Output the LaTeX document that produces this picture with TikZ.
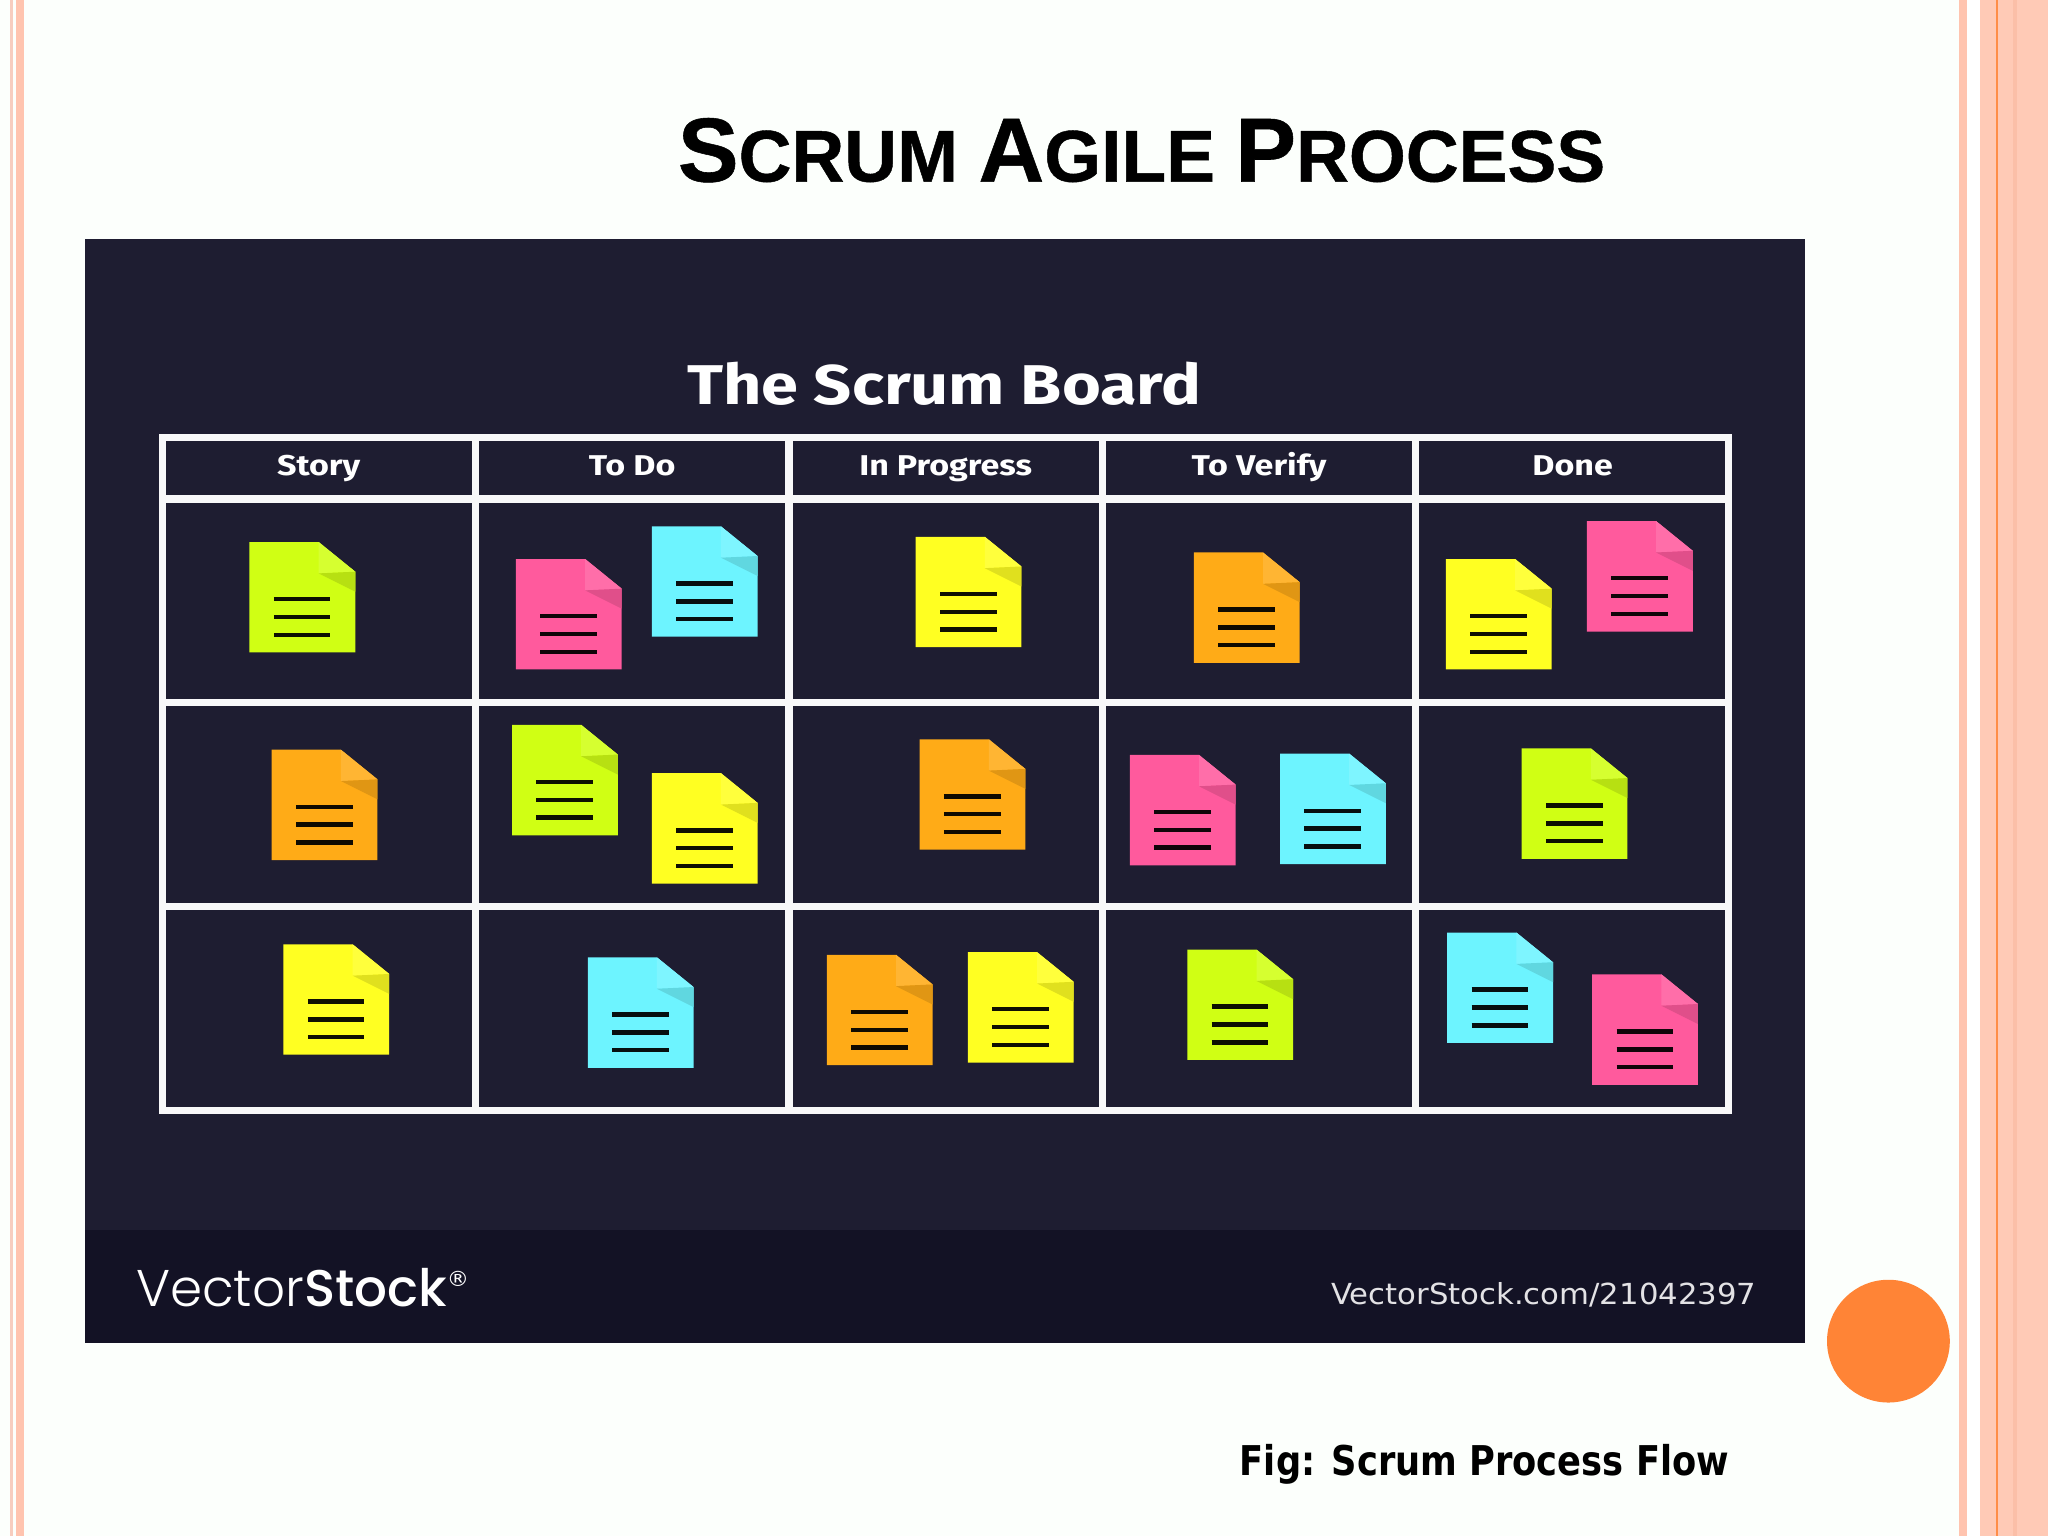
\documentclass[tikz,border=0pt]{standalone}
\usepackage{fontspec}
\setmainfont{Liberation Sans}
\newfontfamily\titlefont{Liberation Sans}[BoldFeatures={FakeBold=0.6}]
\newfontfamily\boardfont{Fira Sans}[FakeStretch=1.19]
\newfontfamily\logofont{Poppins Light}
\newfontfamily\logobold{Poppins Medium}
\newfontfamily\urlfont{DejaVu Sans}[FakeStretch=1.06]
\newfontfamily\capfont{DejaVu Sans}[FakeStretch=0.86]
\definecolor{boardbg}{HTML}{1E1D31}
\definecolor{footbg}{HTML}{131225}
\definecolor{stripe}{HTML}{FFC4AF}
\definecolor{stripepale}{HTML}{F7CDBF}
\definecolor{stripewide}{HTML}{FFCAB6}
\definecolor{stripedark}{HTML}{FBBFA8}
\definecolor{dotorange}{HTML}{FF8436}
\definecolor{notelime}{HTML}{D0FF14}
\definecolor{notepink}{HTML}{FF5A9D}
\definecolor{notecyan}{HTML}{6DF4FF}
\definecolor{noteyellow}{HTML}{FFFF22}
\definecolor{noteorange}{HTML}{FFAB17}
\tikzset{
  grid line/.style={white!97!boardbg,line width=3.7pt},
  column head/.style={anchor=base,white,font=\boardfont\bfseries\fontsize{14.3}{16}\selectfont},
}
% x y colour
\newcommand{\stickynote}[3]{%
\fill[#3] (#1,#2) -- ++(53,0) -- ++(28,22.7) -- ++(0,61.8) -- ++(-81,0) -- cycle;
\fill[#3!88!white] (#1+53,#2) -- ++(28,22.7) -- ++(-28,1.3) -- cycle;
\fill[#3!88!black] (#1+53,#2+24) -- ++(28,-1.3) -- ++(0,15.3) -- cycle;
\draw[#3!6!black,line width=2.2pt] (#1+18.7,#2+43.7) -- ++(43.3,0);
\draw[#3!6!black,line width=2.2pt] (#1+18.7,#2+57.4) -- ++(43.3,0);
\draw[#3!6!black,line width=2.2pt] (#1+18.7,#2+71) -- ++(43.3,0);
}
\begin{document}
\begin{tikzpicture}[x=0.65306pt,y=-0.65306pt]
\useasboundingbox (0,0) rectangle (1568,1176);
\fill[white!99!green] (0,0) rectangle (1568,1176);
% side bands
\fill[stripepale] (8,0) rectangle (10,1176);
\fill[stripe] (12,0) rectangle (18.4,1176);
\fill[stripe] (1499.7,0) rectangle (1506,1176);
\fill[white] (1506,0) rectangle (1516,1176);
\fill[stripewide] (1516,0) rectangle (1568,1176);
\fill[dotorange!85!stripe] (1528.4,0) rectangle (1529.8,1176);
\fill[stripedark] (1541,0) rectangle (1544.5,1176);
% title
\node[anchor=base,black,font=\titlefont\bfseries\fontsize{36.6}{40}\selectfont] (title) at (874,139) {%
{\fontsize{45.5}{50}\selectfont S}CRUM {\fontsize{45.5}{50}\selectfont A}GILE {\fontsize{45.5}{50}\selectfont P}ROCESS};
% board
\fill[boardbg] (65,182.7) rectangle (1382,1028.5);
\fill[footbg] (65,942) rectangle (1382,1028.5);
\node[anchor=base,white,font=\boardfont\bfseries\fontsize{28}{30}\selectfont] (boardtitle) at (723,310) {The Scrum Board};
\draw[grid line] (124.5,335) rectangle (1323.5,850);
\draw[grid line] (124.5,382) -- (1323.5,382);
\draw[grid line] (124.5,538) -- (1323.5,538);
\draw[grid line] (124.5,694) -- (1323.5,694);
\draw[grid line] (364,335) -- (364,850);
\draw[grid line] (604,335) -- (604,850);
\draw[grid line] (844,335) -- (844,850);
\draw[grid line] (1083.5,335) -- (1083.5,850);
\node[column head] (story) at (244,364) {Story};
\node[column head] (todo) at (484,364) {To Do};
\node[column head] (progress) at (724,364) {In Progress};
\node[column head] (verify) at (964,364) {To Verify};
\node[column head] (done) at (1204,364) {Done};
% row 1
\stickynote{191}{415}{notelime}
\stickynote{395}{428}{notepink}
\stickynote{499}{403}{notecyan}
\stickynote{701}{411}{noteyellow}
\stickynote{914}{423}{noteorange}
\stickynote{1107}{428}{noteyellow}
\stickynote{1215}{399}{notepink}
% row 2
\stickynote{208}{574}{noteorange}
\stickynote{392}{555}{notelime}
\stickynote{499}{592}{noteyellow}
\stickynote{704}{566}{noteorange}
\stickynote{865}{578}{notepink}
\stickynote{980}{577}{notecyan}
\stickynote{1165}{573}{notelime}
% row 3
\stickynote{217}{723}{noteyellow}
\stickynote{450}{733}{notecyan}
\stickynote{633}{731}{noteorange}
\stickynote{741}{729}{noteyellow}
\stickynote{909}{727}{notelime}
\stickynote{1108}{714}{notecyan}
\stickynote{1219}{746}{notepink}
% footer
\node[anchor=base west,white,inner sep=0pt,font=\fontsize{25.8}{30}\selectfont] (logo) at (104,1000) {{\logofont Vector}{\logobold Stock}\raisebox{10pt}{\urlfont\fontsize{10.5}{10}\selectfont\textregistered}};
\node[anchor=base east,white!88!footbg,inner sep=0pt,font=\urlfont\fontsize{14.5}{16}\selectfont] (url) at (1345,999) {VectorStock.com/21042397};
\fill[dotorange] (1445.8,1026.8) circle (47);
\node[anchor=base,black,font=\capfont\bfseries\fontsize{20.5}{24}\selectfont] (caption) at (1136.5,1130) {Fig: Scrum Process Flow};
\end{tikzpicture}
\end{document}
